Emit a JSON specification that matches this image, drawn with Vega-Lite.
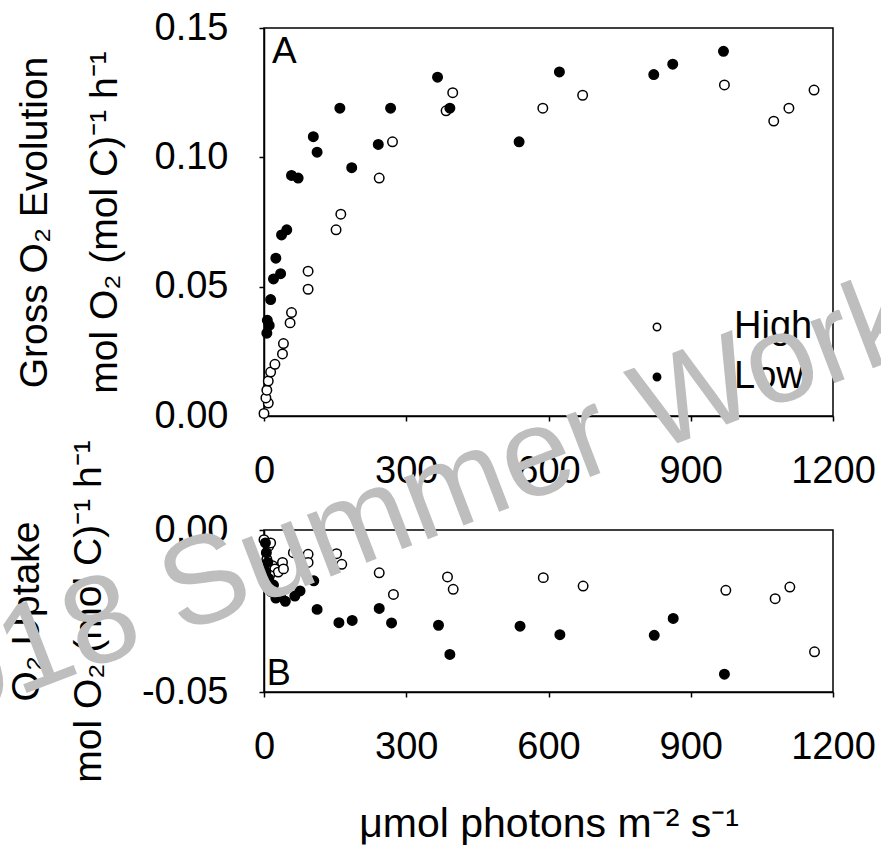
{
  "$schema": "https://vega.github.io/schema/vega-lite/v6.json",
  "autosize": {"type": "pad"},
  "padding": {"left": -149, "top": 8, "right": 0, "bottom": 0},
  "background": "white",
  "bounds": "flush",
  "spacing": 114,
  "resolve": {"legend": {"fill": "independent"}},
  "config": {
    "font": "Liberation Sans",
    "view": {"stroke": "black", "strokeWidth": 1.5},
    "axis": {
      "domainColor": "black", "domainWidth": 1.5,
      "tickColor": "black", "tickWidth": 1.5, "tickSize": 5,
      "labelFont": "Liberation Sans", "labelFontSize": 38, "labelColor": "black", "labelPadding": 31,
      "labelFlush": false, "labelOverlap": false,
      "titleFont": "Liberation Sans", "titleFontSize": 39, "titleColor": "black", "titleFontWeight": "normal",
      "grid": false
    }
  },
  "datasets": {
    "a": [
      {"light": 0, "rate": 0.001, "group": "High"},
      {"light": 9, "rate": 0.005, "group": "High"},
      {"light": 4, "rate": 0.007, "group": "High"},
      {"light": 6, "rate": 0.010, "group": "High"},
      {"light": 9, "rate": 0.0135, "group": "High"},
      {"light": 14, "rate": 0.017, "group": "High"},
      {"light": 23, "rate": 0.020, "group": "High"},
      {"light": 39, "rate": 0.024, "group": "High"},
      {"light": 41, "rate": 0.028, "group": "High"},
      {"light": 55, "rate": 0.036, "group": "High"},
      {"light": 58, "rate": 0.040, "group": "High"},
      {"light": 93, "rate": 0.049, "group": "High"},
      {"light": 93, "rate": 0.056, "group": "High"},
      {"light": 152, "rate": 0.072, "group": "High"},
      {"light": 162, "rate": 0.078, "group": "High"},
      {"light": 243, "rate": 0.092, "group": "High"},
      {"light": 271, "rate": 0.106, "group": "High"},
      {"light": 384, "rate": 0.118, "group": "High"},
      {"light": 398, "rate": 0.125, "group": "High"},
      {"light": 588, "rate": 0.119, "group": "High"},
      {"light": 672, "rate": 0.124, "group": "High"},
      {"light": 971, "rate": 0.128, "group": "High"},
      {"light": 1075, "rate": 0.114, "group": "High"},
      {"light": 1107, "rate": 0.119, "group": "High"},
      {"light": 1160, "rate": 0.126, "group": "High"},
      {"light": 6, "rate": 0.032, "group": "Low"},
      {"light": 11, "rate": 0.035, "group": "Low"},
      {"light": 7, "rate": 0.037, "group": "Low"},
      {"light": 14, "rate": 0.045, "group": "Low"},
      {"light": 20, "rate": 0.053, "group": "Low"},
      {"light": 35, "rate": 0.055, "group": "Low"},
      {"light": 25, "rate": 0.061, "group": "Low"},
      {"light": 37, "rate": 0.070, "group": "Low"},
      {"light": 48, "rate": 0.072, "group": "Low"},
      {"light": 58, "rate": 0.093, "group": "Low"},
      {"light": 72, "rate": 0.092, "group": "Low"},
      {"light": 104, "rate": 0.108, "group": "Low"},
      {"light": 112, "rate": 0.102, "group": "Low"},
      {"light": 160, "rate": 0.119, "group": "Low"},
      {"light": 185, "rate": 0.096, "group": "Low"},
      {"light": 241, "rate": 0.105, "group": "Low"},
      {"light": 267, "rate": 0.119, "group": "Low"},
      {"light": 366, "rate": 0.131, "group": "Low"},
      {"light": 392, "rate": 0.119, "group": "Low"},
      {"light": 538, "rate": 0.106, "group": "Low"},
      {"light": 623, "rate": 0.133, "group": "Low"},
      {"light": 822, "rate": 0.132, "group": "Low"},
      {"light": 862, "rate": 0.136, "group": "Low"},
      {"light": 969, "rate": 0.141, "group": "Low"}
    ],
    "b": [
      {"light": 0, "rate": -0.003, "group": "High"},
      {"light": 10, "rate": -0.005, "group": "High"},
      {"light": 14, "rate": -0.004, "group": "High"},
      {"light": 6, "rate": -0.009, "group": "High"},
      {"light": 18, "rate": -0.011, "group": "High"},
      {"light": 23, "rate": -0.012, "group": "High"},
      {"light": 30, "rate": -0.013, "group": "High"},
      {"light": 12, "rate": -0.014, "group": "High"},
      {"light": 39, "rate": -0.010, "group": "High"},
      {"light": 41, "rate": -0.012, "group": "High"},
      {"light": 62, "rate": -0.007, "group": "High"},
      {"light": 93, "rate": -0.0075, "group": "High"},
      {"light": 93, "rate": -0.010, "group": "High"},
      {"light": 153, "rate": -0.0073, "group": "High"},
      {"light": 164, "rate": -0.0106, "group": "High"},
      {"light": 243, "rate": -0.0132, "group": "High"},
      {"light": 273, "rate": -0.0199, "group": "High"},
      {"light": 387, "rate": -0.0145, "group": "High"},
      {"light": 399, "rate": -0.0183, "group": "High"},
      {"light": 589, "rate": -0.0147, "group": "High"},
      {"light": 673, "rate": -0.0173, "group": "High"},
      {"light": 974, "rate": -0.0186, "group": "High"},
      {"light": 1078, "rate": -0.0212, "group": "High"},
      {"light": 1109, "rate": -0.0176, "group": "High"},
      {"light": 1161, "rate": -0.0376, "group": "High"},
      {"light": 3, "rate": -0.004, "group": "Low"},
      {"light": 5, "rate": -0.007, "group": "Low"},
      {"light": 8, "rate": -0.010, "group": "Low"},
      {"light": 4, "rate": -0.013, "group": "Low"},
      {"light": 10, "rate": -0.015, "group": "Low"},
      {"light": 15, "rate": -0.019, "group": "Low"},
      {"light": 20, "rate": -0.017, "group": "Low"},
      {"light": 25, "rate": -0.021, "group": "Low"},
      {"light": 35, "rate": -0.020, "group": "Low"},
      {"light": 45, "rate": -0.022, "group": "Low"},
      {"light": 65, "rate": -0.0204, "group": "Low"},
      {"light": 76, "rate": -0.0188, "group": "Low"},
      {"light": 105, "rate": -0.0157, "group": "Low"},
      {"light": 112, "rate": -0.0245, "group": "Low"},
      {"light": 158, "rate": -0.0286, "group": "Low"},
      {"light": 186, "rate": -0.0279, "group": "Low"},
      {"light": 243, "rate": -0.0242, "group": "Low"},
      {"light": 269, "rate": -0.0287, "group": "Low"},
      {"light": 368, "rate": -0.0294, "group": "Low"},
      {"light": 392, "rate": -0.0384, "group": "Low"},
      {"light": 540, "rate": -0.0297, "group": "Low"},
      {"light": 624, "rate": -0.0323, "group": "Low"},
      {"light": 823, "rate": -0.0325, "group": "Low"},
      {"light": 863, "rate": -0.0273, "group": "Low"},
      {"light": 971, "rate": -0.0445, "group": "Low"}
    ]
  },
  "vconcat": [
    {
      "width": 569,
      "height": 388,
      "layer": [
        {
          "data": {"name": "a"},
          "mark": {"type": "point", "shape": "circle", "filled": true, "stroke": "black", "strokeWidth": 1.5, "size": 90, "opacity": 1},
          "encoding": {
            "x": {"field": "light", "type": "quantitative", "scale": {"domain": [0, 1200], "nice": false},
                  "axis": {"values": [0, 300, 600, 900, 1200], "format": "d", "title": null}},
            "y": {"field": "rate", "type": "quantitative", "scale": {"domain": [0, 0.15], "nice": false},
                  "axis": {"values": [0, 0.05, 0.1, 0.15], "format": ".2f",
                           "title": ["Gross O₂ Evolution", "mol O₂ (mol C)⁻¹ h⁻¹"],
                           "titleLineHeight": 70, "titlePadding": 30}},
            "fill": {"field": "group", "type": "nominal",
                     "scale": {"domain": ["High", "Low"], "range": ["white", "black"]},
                     "legend": {"title": null, "orient": "bottom-right", "offset": 20, "padding": 0,
                                "labelFontSize": 38, "labelColor": "black", "labelFont": "Liberation Sans",
                                "labelOffset": 58, "symbolType": "circle", "symbolSize": 55,
                                "symbolStrokeColor": "black", "symbolStrokeWidth": 1.5, "rowPadding": 12}}
          }
        },
        {
          "data": {"values": [{"panel": "A", "light": 17, "rate": 0.1408}]},
          "mark": {"type": "text", "align": "left", "baseline": "middle", "fontSize": 37, "color": "black", "font": "Liberation Sans"},
          "encoding": {"x": {"field": "light", "type": "quantitative"}, "y": {"field": "rate", "type": "quantitative"}, "text": {"field": "panel"}}
        }
      ]
    },
    {
      "width": 569,
      "height": 162,
      "layer": [
        {
          "data": {"name": "b"},
          "mark": {"type": "point", "shape": "circle", "filled": true, "stroke": "black", "strokeWidth": 1.5, "size": 90, "opacity": 1},
          "encoding": {
            "x": {"field": "light", "type": "quantitative", "scale": {"domain": [0, 1200], "nice": false},
                  "axis": {"values": [0, 300, 600, 900, 1200], "format": "d", "title": "μmol photons m⁻² s⁻¹",
                           "titleFontSize": 41, "titlePadding": 38}},
            "y": {"field": "rate", "type": "quantitative", "scale": {"domain": [-0.05, 0], "nice": false},
                  "axis": {"values": [-0.05, 0], "format": ".2f", "labelExpr": "replace(datum.label, '−', '-')",
                           "title": ["O₂ Uptake", "mol O₂ (mol C)⁻¹ h⁻¹"],
                           "titleLineHeight": 62, "titlePadding": 33}},
            "fill": {"field": "group", "type": "nominal",
                     "scale": {"domain": ["High", "Low"], "range": ["white", "black"]},
                     "legend": null}
          }
        },
        {
          "data": {"values": [{"panel": "B", "light": 6, "rate": -0.0443}]},
          "mark": {"type": "text", "align": "left", "baseline": "middle", "fontSize": 36, "color": "black", "font": "Liberation Sans"},
          "encoding": {"x": {"field": "light", "type": "quantitative"}, "y": {"field": "rate", "type": "quantitative"}, "text": {"field": "panel"}}
        },
        {
          "data": {"values": [{"note": "2018 Summer Work", "light": 270, "rate": 0.0055}]},
          "mark": {"type": "text", "align": "center", "baseline": "middle", "angle": -21, "fontSize": 125, "color": "#bebebe", "font": "Liberation Sans"},
          "encoding": {"x": {"field": "light", "type": "quantitative"}, "y": {"field": "rate", "type": "quantitative"}, "text": {"field": "note"}}
        }
      ]
    }
  ]
}
